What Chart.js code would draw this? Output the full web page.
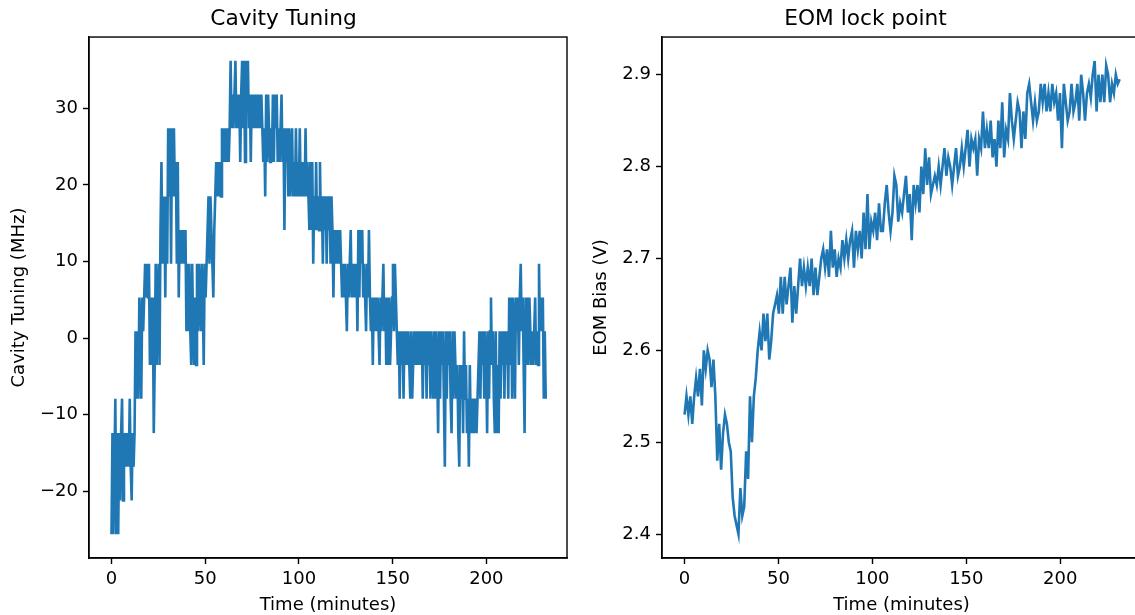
<!DOCTYPE html>
<html>
<head>
<meta charset="utf-8">
<script src="https://cdn.jsdelivr.net/npm/chart.js@4.4.1/dist/chart.umd.min.js"></script>
<style>
  html, body { margin: 0; padding: 0; background: #fff; overflow: hidden; }
  body { width: 1135px; height: 615px; position: relative; }
  .panel { position: absolute; top: 0; }
  #leftPanel { left: 0; }
  #rightPanel { left: 590px; }
</style>
</head>
<body>
<div class="panel" id="leftPanel"><canvas id="tuningChart" width="590" height="615"></canvas></div>
<div class="panel" id="rightPanel"><canvas id="eomChart" width="560" height="615"></canvas></div>
<script>
// time between samples, in minutes
const tuningStep = 0.5125;
const eomStep = 1.025;

// cavity tuning (MHz)
const tuningMHz = [
  -25.6, -12.4, -25.6, -16.8, -7.9, -25.6, -12.4, -25.6,
  -12.4, -21.2, -12.4, -7.9, -21.2, -12.4, -16.8, -12.4, -16.8, -12.4, -16.8, -7.9, -16.8, -21.2, -12.4, -16.8,
  -12.4, 0.9, -7.9, 0.9, -7.9, 5.3, 0.9, -7.9, 5.3, 0.9, 5.3,
  9.7, 5.3, 9.7, 5.3, 9.7,
  -3.5, 5.3, -3.5, 5.3, -12.4, -3.5,
  9.7, -3.5, 5.3, 9.7, -3.5,
  14.1, 23.0, 9.7, 14.1,
  18.5, 5.3, 18.5,
  9.7, 27.4, 18.5, 27.4, 9.7,
  27.4, 18.5, 27.4, 18.5, 23.0, 9.7, 23.0,
  5.3, 14.1, 9.7, 14.1, 9.7, 14.1, 9.7, 14.1,
  0.9, 9.7, 0.9, 9.7, 0.9, -3.5, 9.7, 0.9, -3.5, 5.3, -3.5, 9.7, 0.9, 9.7, 5.3, 0.9, 9.7, 5.3, -3.5, 9.7, 5.3,
  9.7, 14.1, 18.5, 9.7, 18.5, 14.1, 9.7, 5.3, 14.1,
  18.5, 23.0, 18.5, 23.0, 18.5, 23.0, 18.5,
  27.4, 23.0, 27.4, 23.0, 27.4, 23.0, 27.4, 23.0, 27.4,
  36.2, 27.4, 31.8, 27.4, 31.8, 36.2,
  27.4, 31.8, 27.4, 31.8, 23.0, 31.8,
  36.2, 27.4, 36.2, 23.0, 36.2, 31.8, 36.2, 27.4,
  31.8, 23.0, 31.8, 27.4, 31.8, 27.4, 31.8, 27.4, 31.8, 27.4, 31.8, 27.4, 31.8, 27.4,
  23.0, 27.4, 18.5, 31.8, 23.0, 31.8, 27.4, 23.0, 27.4, 23.0, 31.8, 23.0, 31.8, 27.4, 31.8, 23.0, 27.4, 23.0, 27.4, 31.8, 23.0, 27.4, 14.1, 27.4, 23.0,
  27.4, 18.5, 27.4, 18.5, 23.0, 27.4, 18.5, 23.0, 18.5, 27.4, 18.5, 23.0, 18.5, 27.4, 18.5, 23.0, 18.5, 23.0, 18.5, 27.4, 18.5,
  23.0, 18.5, 14.1, 23.0, 14.1, 23.0, 9.7, 18.5, 14.1, 23.0,
  14.1, 18.5, 14.1, 23.0, 14.1, 18.5, 9.7, 18.5,
  14.1, 18.5, 9.7, 18.5, 14.1, 18.5, 9.7, 18.5, 14.1,
  5.3, 14.1, 9.7, 14.1, 9.7, 14.1, 9.7, 14.1, 9.7,
  5.3, 9.7, 5.3, 9.7, 5.3, 0.9, 9.7, 5.3, 9.7, 14.1, 5.3,
  9.7, 5.3, 9.7, 5.3, 9.7, 0.9, 14.1, 5.3, 14.1, 9.7, 14.1, 5.3, 9.7, 5.3, 0.9, 9.7, 5.3, 14.1,
  5.3, 0.9, 5.3, -3.5, 5.3, 0.9, 5.3, 0.9, 5.3, 0.9, -3.5, 5.3, 0.9, 5.3,
  9.7, 0.9, 5.3, -3.5, 5.3, -3.5, 5.3, -3.5, 0.9, 5.3, 9.7, 0.9, 9.7, 5.3, 0.9,
  -3.5, 0.9, -7.9, 0.9, -3.5, 0.9, -7.9, 0.9, -3.5, 0.9, -3.5, 0.9, -3.5, -7.9, 0.9, -7.9, -3.5,
  0.9, -3.5, 0.9, -3.5, 0.9, -3.5, 0.9, -3.5, 0.9, -7.9, 0.9, -3.5, 0.9, -7.9, 0.9, -3.5, 0.9,
  -7.9, 0.9, -3.5, -7.9, 0.9, -7.9, 0.9,
  -3.5, -12.4, 0.9, -7.9, 0.9, -3.5, 0.9,
  -7.9, -16.8, 0.9,
  -7.9, 0.9, -3.5, 0.9, -7.9, -12.4, 0.9, -7.9, 0.9,
  -3.5, -7.9, -3.5, -12.4, -16.8, -3.5, -7.9,
  -3.5, -12.4, 0.9, -7.9, -3.5, -12.4, -7.9, -16.8, -3.5, -12.4,
  -7.9, -12.4, -7.9, -12.4, -7.9, -12.4, -7.9, -3.5,
  0.9, -7.9, 0.9, -3.5, 0.9, -7.9, 0.9, -3.5, -12.4, 0.9, -7.9,
  0.9, 5.3, -3.5,
  0.9, -7.9, -12.4, 0.9, -12.4, -3.5, -12.4, 0.9,
  -7.9, 0.9, -3.5, 0.9, -7.9, 0.9, -3.5, 0.9,
  -7.9, 5.3, -3.5, 5.3, -7.9, 5.3, 0.9, -7.9, 5.3,
  0.9, 5.3, -3.5, 5.3, 9.7, 0.9, 5.3, -3.5, -12.4, 5.3, -3.5, 5.3, -3.5, 5.3,
  0.9, -3.5, 0.9, -3.5, 0.9, 5.3, -3.5,
  0.9, -3.5, 9.7, 0.9, 5.3, 0.9, 5.3, -7.9, 0.9, -7.9
];

// EOM bias (V)
const eomBiasV = [
  2.53, 2.55, 2.53, 2.55, 2.52, 2.55, 2.57, 2.55, 2.58, 2.54,
  2.60, 2.58, 2.60, 2.59, 2.56, 2.59, 2.55, 2.48, 2.52, 2.47,
  2.51, 2.53, 2.52, 2.50, 2.49, 2.44, 2.42, 2.41, 2.40, 2.45,
  2.42, 2.43, 2.49, 2.46, 2.55, 2.50, 2.55, 2.57, 2.60, 2.62,
  2.60, 2.64, 2.61, 2.64, 2.59, 2.61, 2.64, 2.65, 2.66, 2.64,
  2.68, 2.64, 2.68, 2.65, 2.67, 2.69, 2.63, 2.67, 2.64, 2.67,
  2.70, 2.67, 2.69, 2.67, 2.69, 2.67, 2.70, 2.66, 2.69, 2.66,
  2.68, 2.70, 2.71, 2.69, 2.71, 2.68, 2.73, 2.69, 2.71, 2.68,
  2.70, 2.69, 2.72, 2.70, 2.72, 2.70, 2.72, 2.73, 2.69, 2.73,
  2.71, 2.73, 2.70, 2.75, 2.71, 2.77, 2.71, 2.74, 2.73, 2.75,
  2.72, 2.76, 2.73, 2.73, 2.76, 2.78, 2.75, 2.73, 2.75, 2.79,
  2.78, 2.74, 2.76, 2.75, 2.77, 2.79, 2.75, 2.77, 2.72, 2.78,
  2.76, 2.78, 2.75, 2.80, 2.77, 2.82, 2.78, 2.81, 2.77, 2.78,
  2.79, 2.78, 2.80, 2.78, 2.80, 2.82, 2.79, 2.81, 2.80, 2.78,
  2.80, 2.82, 2.79, 2.80, 2.82, 2.80, 2.82, 2.84, 2.80, 2.83,
  2.82, 2.83, 2.79, 2.83, 2.82, 2.86, 2.82, 2.84, 2.82, 2.85,
  2.81, 2.83, 2.80, 2.85, 2.82, 2.87, 2.81, 2.84, 2.83, 2.88,
  2.85, 2.83, 2.85, 2.87, 2.86, 2.82, 2.86, 2.83, 2.88, 2.89,
  2.87, 2.85, 2.87, 2.85, 2.86, 2.89, 2.87, 2.89, 2.86, 2.88,
  2.86, 2.89, 2.87, 2.88, 2.85, 2.88, 2.82, 2.89, 2.87, 2.85,
  2.86, 2.89, 2.86, 2.87, 2.89, 2.85, 2.90, 2.88, 2.85, 2.88,
  2.89, 2.875, 2.90, 2.915, 2.86, 2.90, 2.87, 2.90, 2.87, 2.91,
  2.90, 2.87, 2.89, 2.88, 2.90, 2.89, 2.895
];

const timeTicks = [0, 50, 100, 150, 200];
const tuningTicks = [-20, -10, 0, 10, 20, 30];
const eomTicks = [2.4, 2.5, 2.6, 2.7, 2.8, 2.9];

const FONT = "'DejaVu Sans', sans-serif";
const LINE_COLOR = "#1f77b4";

// matplotlib draws all four spines, chart.js only the axis borders
const boxPlugin = {
  id: "box",
  afterDraw(chart) {
    const { ctx, chartArea: a } = chart;
    ctx.save();
    ctx.strokeStyle = "#000";
    ctx.lineWidth = 1.4;
    ctx.strokeRect(a.left, a.top, a.right - a.left, a.bottom - a.top);
    ctx.restore();
  },
};

function minusSign(v) {
  return v < 0 ? "\u2212" + Math.abs(v) : String(v);
}

function makeChart(canvasId, opts) {
  const points = opts.values.map((v, i) => ({ x: i * opts.step, y: v }));
  return new Chart(document.getElementById(canvasId), {
    type: "line",
    data: {
      datasets: [
        {
          data: points,
          borderColor: LINE_COLOR,
          borderWidth: 2.6,
          pointRadius: 0,
          tension: 0,
          fill: false,
        },
      ],
    },
    options: {
      responsive: false,
      animation: false,
      devicePixelRatio: 1,
      layout: { padding: { left: 0, right: opts.padRight, top: 0, bottom: 0 } },
      plugins: {
        legend: { display: false },
        tooltip: { enabled: false },
        title: {
          display: true,
          text: opts.title,
          color: "#000",
          font: { family: FONT, size: 21.7, weight: "normal", lineHeight: 1.2 },
          padding: { top: 6, bottom: 5 },
        },
      },
      scales: {
        x: {
          type: "linear",
          min: -12,
          max: 243,
          afterBuildTicks: (axis) => {
            axis.ticks = timeTicks.map((v) => ({ value: v }));
          },
          afterFit: (axis) => {
            axis.height = 57;
          },
          grid: { drawOnChartArea: false, drawTicks: true, tickLength: 6, tickWidth: 1.4, tickColor: "#000" },
          border: { display: true, color: "#000", width: 1.4 },
          ticks: { color: "#000", padding: 5, maxRotation: 0, font: { family: FONT, size: 18 } },
          title: {
            display: true,
            text: "Time (minutes)",
            color: "#000",
            font: { family: FONT, size: 18, lineHeight: 1.2 },
            padding: { top: 0, bottom: -1 },
          },
        },
        y: {
          min: opts.yMin,
          max: opts.yMax,
          afterBuildTicks: (axis) => {
            axis.ticks = opts.yTicks.map((v) => ({ value: v }));
          },
          afterFit: (axis) => {
            axis.width = opts.axisWidth;
          },
          grid: { drawOnChartArea: false, drawTicks: true, tickLength: 6, tickWidth: 1.4, tickColor: "#000" },
          border: { display: true, color: "#000", width: 1.4 },
          ticks: { color: "#000", padding: 5, font: { family: FONT, size: 18 }, callback: opts.tickFormat },
          title: {
            display: true,
            text: opts.yLabel,
            color: "#000",
            font: { family: FONT, size: 18, lineHeight: 1.2 },
            padding: { top: opts.yTitlePad, bottom: 0 },
          },
        },
      },
    },
    plugins: [boxPlugin],
  });
}

makeChart("tuningChart", {
  title: "Cavity Tuning",
  yLabel: "Cavity Tuning (MHz)",
  values: tuningMHz,
  step: tuningStep,
  yMin: -28.7,
  yMax: 39.3,
  yTicks: tuningTicks,
  tickFormat: (v) => minusSign(v),
  axisWidth: 89,
  yTitlePad: 9,
  padRight: 23,
});

makeChart("eomChart", {
  title: "EOM lock point",
  yLabel: "EOM Bias (V)",
  values: eomBiasV,
  step: eomStep,
  yMin: 2.374,
  yMax: 2.941,
  yTicks: eomTicks,
  tickFormat: (v) => v.toFixed(1),
  axisWidth: 72,
  yTitlePad: 0.5,
  padRight: 9,
});
</script>
</body>
</html>
